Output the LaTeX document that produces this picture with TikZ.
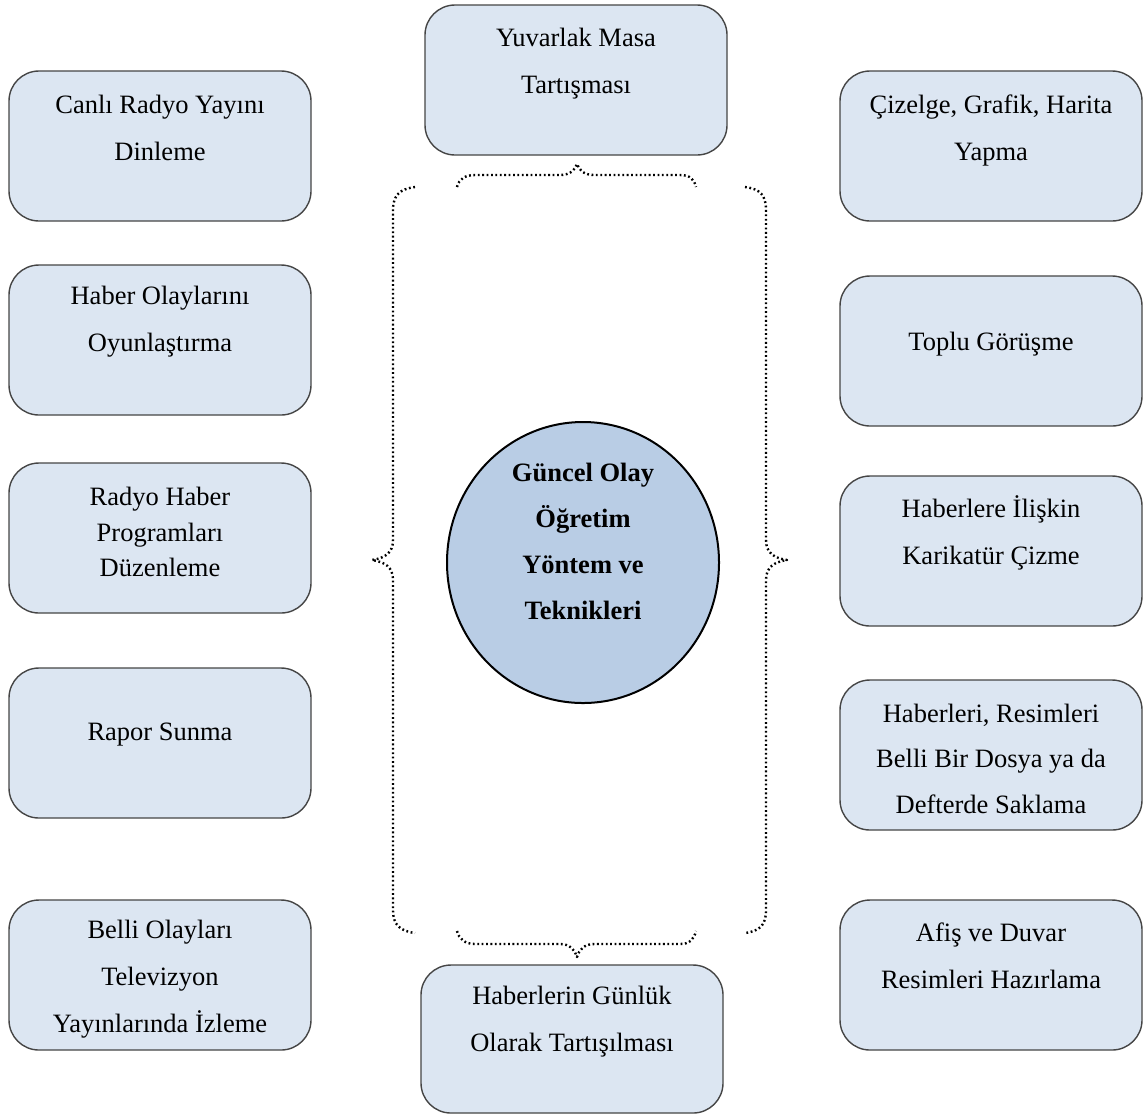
\documentclass[tikz,border=0pt]{standalone}
\usepackage{fontspec}
\setmainfont{Liberation Serif}
\usetikzlibrary{shapes.geometric}
\definecolor{kutudolgu}{HTML}{DCE6F2}
\definecolor{kenar}{HTML}{454545}
\definecolor{merkezdolgu}{HTML}{B9CDE5}
\begin{document}
\begin{tikzpicture}[x=0.5pt, y=-0.5pt,
    kutu/.style={draw=kenar, fill=kutudolgu, rounded corners=15pt, line width=0.7pt, minimum width=151pt, minimum height=75pt, inner sep=0pt},
    yazi/.style={align=center, inner sep=0pt, font=\fontsize{13.25pt}{23.5pt}\selectfont},
    merkez/.style={ellipse, draw=black, fill=merkezdolgu, line width=1pt, minimum width=136pt, minimum height=140.5pt, inner sep=0pt},
    ayrac/.style={line width=1.2pt, line join=round, dash pattern=on 0.9pt off 1.3pt}]
    \useasboundingbox (0,0) rectangle (1143,1115);
    \pgfmathsetmacro{\solx}{160};
    \pgfmathsetmacro{\sagx}{991};
    % center
    \node[merkez] (merkez) at (583,562.5) {};
    \node[yazi, font=\fontsize{13.25pt}{23pt}\selectfont\bfseries] (merkez-y) at (583,541) {Güncel Olay\\Öğretim\\Yöntem ve\\Teknikleri};
    % top and bottom
    \node[kutu] (masa) at (576,80) {};
    \node[yazi] (masa-y) at (576,63.5) {Yuvarlak Masa\\Tartışması};
    \node[kutu, minimum height=74pt] (gunluk) at (572,1039) {};
    \node[yazi] (gunluk-y) at (572,1022) {Haberlerin Günlük\\Olarak Tartışılması};
    % left column
    \node[kutu] (canli) at (\solx,146) {};
    \node[yazi] (canli-y) at (\solx,128) {Canlı Radyo Yayını\\Dinleme};
    \node[kutu] (oyun) at (\solx,340) {};
    \node[yazi] (oyun-y) at (\solx,321.5) {Haber Olaylarını\\Oyunlaştırma};
    \node[kutu] (program) at (\solx,538) {};
    \node[yazi, font=\fontsize{13.25pt}{17.75pt}\selectfont] (program-y) at (\solx,532) {Radyo Haber\\Programları\\Düzenleme};
    \node[kutu] (rapor) at (\solx,743) {};
    \node[yazi] (rapor-y) at (\solx,735) {Rapor Sunma};
    \node[kutu] (izleme) at (\solx,975) {};
    \node[yazi] (izleme-y) at (\solx,979.5) {Belli Olayları\\Televizyon\\Yayınlarında İzleme};
    % right column
    \node[kutu] (cizelge) at (\sagx,146) {};
    \node[yazi] (cizelge-y) at (\sagx,130) {Çizelge, Grafik, Harita\\Yapma};
    \node[kutu] (gorusme) at (\sagx,351) {};
    \node[yazi] (gorusme-y) at (\sagx,344) {Toplu Görüşme};
    \node[kutu] (karikatur) at (\sagx,551) {};
    \node[yazi] (karikatur-y) at (\sagx,532.5) {Haberlere İlişkin\\Karikatür Çizme};
    \node[kutu] (dosya) at (\sagx,755) {};
    \node[yazi, font=\fontsize{13.25pt}{22.75pt}\selectfont] (dosya-y) at (\sagx,758.5) {Haberleri, Resimleri\\Belli Bir Dosya ya da\\Defterde Saklama};
    \node[kutu] (afis) at (\sagx,975) {};
    \node[yazi] (afis-y) at (\sagx,956) {Afiş ve Duvar\\Resimleri Hazırlama};
    % braces
    \draw[ayrac] (415,187) .. controls (400,189) and (393,195) .. (393,210) -- (393,540) .. controls (393,553) and (385,558) .. (372,560) .. controls (385,562) and (393,567) .. (393,580) -- (393,910) .. controls (393,925) and (400,931) .. (415,933);
    \draw[ayrac] (745,187) .. controls (760,189) and (766,195) .. (766,210) -- (766,540) .. controls (766,553) and (774,558) .. (787,560) .. controls (774,562) and (766,567) .. (766,580) -- (766,910) .. controls (766,925) and (760,931) .. (745,933);
    \draw[ayrac] (457,187) .. controls (459,179) and (465,175) .. (475,175) -- (560,175) .. controls (570,175) and (575,170) .. (577,164) .. controls (579,170) and (584,175) .. (594,175) -- (680,175) .. controls (690,175) and (694,179) .. (696,187);
    \draw[ayrac] (457,931) .. controls (459,939) and (465,944) .. (475,944) -- (560,944) .. controls (570,944) and (575,950) .. (577,957) .. controls (579,950) and (584,944) .. (594,944) -- (680,944) .. controls (690,944) and (694,939) .. (696,931);
\end{tikzpicture}
\end{document}
